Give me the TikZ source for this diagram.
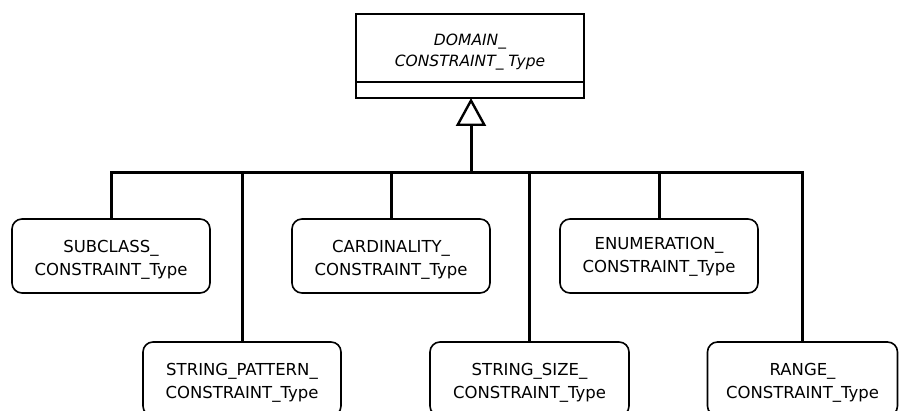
\documentclass[tikz,border=0pt]{standalone}
\usepackage{fontspec}
\setmainfont{DejaVu Sans}
\usetikzlibrary{arrows.meta}
\begin{document}
\begin{tikzpicture}[x=1pt,y=-1pt,
  cls/.style={draw, line width=1.6pt, rounded corners=10pt, minimum width=198pt, minimum height=74pt, inner sep=0pt},
  txt/.style={align=center, font=\fontsize{16.5}{23}\selectfont, inner sep=0pt},
  top/.style={draw, line width=2.4pt, minimum width=228pt, inner sep=0pt, outer sep=0pt},
  link/.style={line width=3pt}
]
\useasboundingbox (0,0) rectangle (899,411);
\node[top, minimum height=68pt] (dom) at (470,48) {};
\node[txt, font=\itshape\fontsize{15.5}{21}\selectfont] (domt) at ([yshift=-4pt]dom.center) {DOMAIN\_\\CONSTRAINT\_ Type};
\node[top, minimum height=16pt, anchor=north] (domb) at (dom.south) {};
\node[cls] (sub) at (111,256) {};
\node[cls] (card) at (391,256) {};
\node[cls] (enum) at (659,256) {};
\node[cls] (pat) at (242,379) {};
\node[cls, minimum width=199pt] (size) at (529.5,379) {};
\node[cls, minimum width=190pt] (rng) at (802.5,379) {};
\node[txt] (subt) at ([yshift=-4pt]sub.center) {SUBCLASS\_\\CONSTRAINT\_Type};
\node[txt] (cardt) at ([yshift=-4pt]card.center) {CARDINALITY\_\\CONSTRAINT\_Type};
\node[txt] (enumt) at ([yshift=-1pt]enum.center) {ENUMERATION\_\\CONSTRAINT\_Type};
\node[txt] (patt) at ([yshift=-4pt]pat.center) {STRING\_PATTERN\_\\CONSTRAINT\_Type};
\node[txt] (sizet) at ([yshift=-4pt]size.center) {STRING\_SIZE\_\\CONSTRAINT\_Type};
\node[txt] (rngt) at ([yshift=-4pt]rng.center) {RANGE\_\\CONSTRAINT\_Type};
\coordinate (j) at (471,173);
\draw[link] (sub.north) |- (rng.north |- j) -- (rng.north);
\foreach \n in {pat,card,size,enum} \draw[link] (\n.north) -- (\n.north |- j);
\draw[link, -{Triangle[open, length=28pt, width=30pt, line width=2.4pt]}] (j) -- (j |- domb.south);
\end{tikzpicture}
\end{document}
